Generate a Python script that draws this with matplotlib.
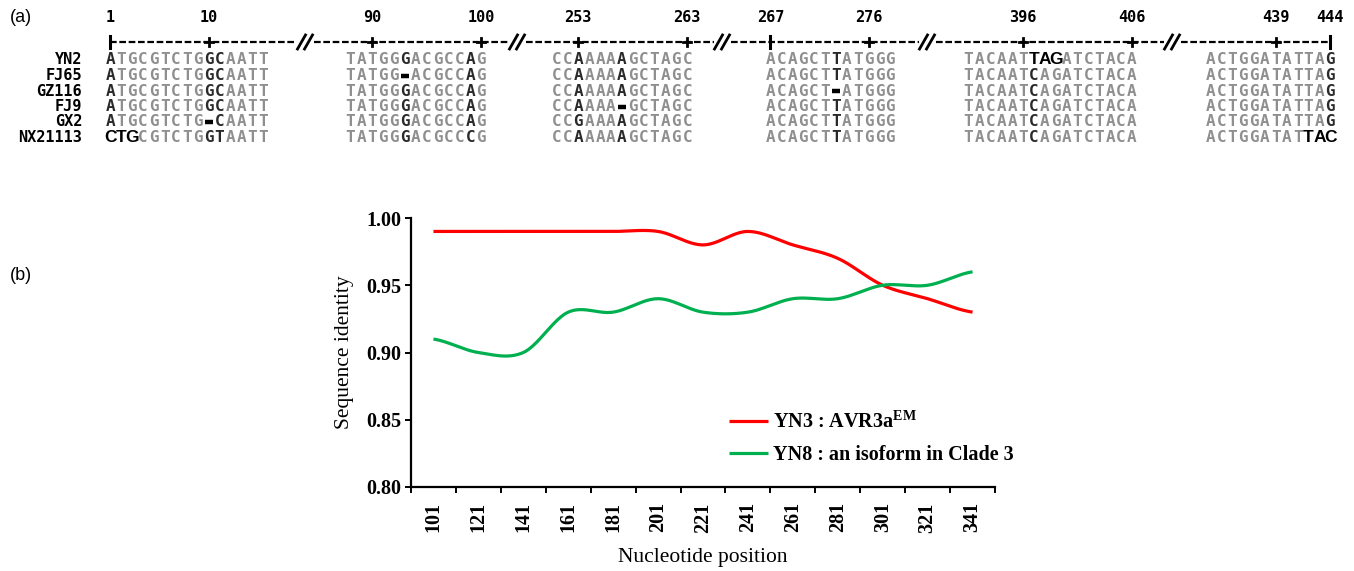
import matplotlib

matplotlib.use("Agg")

import matplotlib.pyplot as plt
import numpy as np

W_PX, H_PX = 1354, 571

# ---- panel (a): alignment data ----
STRAINS = ["YN2", "FJ65", "GZ116", "FJ9", "GX2", "NX21113"]
BLOCK_1 = ["ATGCGTCTGGCAATT", "ATGCGTCTGGCAATT", "ATGCGTCTGGCAATT",
           "ATGCGTCTGGCAATT", "ATGCGTCTG-CAATT", "CTGCGTCTGGTAATT"]
BLOCK_2 = ["TATGGGACGCCAG", "TATGG-ACGCCAG", "TATGGGACGCCAG",
           "TATGGGACGCCAG", "TATGGGACGCCAG", "TATGGGACGCCCG"]
BLOCK_3 = ["CCAAAAAGCTAGC", "CCAAAAAGCTAGC", "CCAAAAAGCTAGC",
           "CCAAAA-GCTAGC", "CCGAAAAGCTAGC", "CCAAAAAGCTAGC"]
BLOCK_4 = ["ACAGCTTATGGG", "ACAGCTTATGGG", "ACAGCT-ATGGG",
           "ACAGCTTATGGG", "ACAGCTTATGGG", "ACAGCTTATGGG"]
BLOCK_5 = ["TACAATTAGATCTACA", "TACAATCAGATCTACA", "TACAATCAGATCTACA",
           "TACAATCAGATCTACA", "TACAATCAGATCTACA", "TACAATCAGATCTACA"]
BLOCK_6 = ["ACTGGATATTAG", "ACTGGATATTAG", "ACTGGATATTAG",
           "ACTGGATATTAG", "ACTGGATATTAG", "ACTGGATATTAC"]
BLOCKS = [BLOCK_1, BLOCK_2, BLOCK_3, BLOCK_4, BLOCK_5, BLOCK_6]
# columns shown in dark grey (variable sites)
DARK_COLS = [[0, 9, 10], [5, 11], [2, 6], [6], [6], [11]]
# (row, block) -> (start, stop) of codons shown in black bold
BOLD_SPANS = {(5, 0): (0, 3), (0, 4): (6, 9), (5, 5): (9, 12)}
# ruler ticks per block: (column, label, marker)
RULER_TICKS = [
    [(0, "1", "I"), (9, "10", "+")],
    [(2, "90", "+"), (12, "100", "+")],
    [(2, "253", "+"), (12, "263", "+")],
    [(0, "267", "I"), (9, "276", "+")],
    [(5, "396", "+"), (15, "406", "+")],
    [(6, "439", "+"), (11, "444", "I")],
]

# ---- panel (b): sequence identity ----
POSITIONS = ["101", "121", "141", "161", "181", "201", "221",
             "241", "261", "281", "301", "321", "341"]
YN3_IDENTITY = [0.99, 0.99, 0.99, 0.99, 0.99, 0.99, 0.98,
                0.99, 0.98, 0.97, 0.95, 0.94, 0.93]
YN8_IDENTITY = [0.91, 0.90, 0.90, 0.93, 0.93, 0.94, 0.93,
                0.93, 0.94, 0.94, 0.95, 0.95, 0.96]
YN3_LABEL = r"YN3 : AVR3a$^{\mathbf{EM}}$"
YN8_LABEL = "YN8 : an isoform in Clade 3"

# layout (pixels)
BLOCK_X0 = [105, 345, 551, 765, 963, 1205]
CHAR_W = 10.9
ROW_Y0, ROW_DY = 60, 15.5
RULER_Y, RULER_LABEL_Y = 42, 18
NAME_X = 82
RULER_SEGMENTS = [(110, 296), (314, 509), (526, 714), (731, 919), (936, 1164), (1181, 1330)]
BREAK_X = [305, 517, 722, 927, 1172]

GREY = "#8f8f8f"
DARK = "#2a2a2a"
MONO = "DejaVu Sans Mono"
SERIF = "Liberation Serif"

plt.rcParams["mathtext.fontset"] = "custom"
plt.rcParams["mathtext.rm"] = SERIF
plt.rcParams["mathtext.bf"] = SERIF + ":bold"


def catmull_rom(values, steps=24):
    pts = np.asarray(values, dtype=float)
    padded = np.concatenate([[pts[0]], pts, [pts[-1]]])
    xs, ys = [], []
    t = np.linspace(0.0, 1.0, steps, endpoint=False)
    for i in range(len(pts) - 1):
        p0, p1, p2, p3 = padded[i:i + 4]
        m1 = (p2 - p0) / 2.0
        m2 = (p3 - p1) / 2.0
        h00 = 2 * t**3 - 3 * t**2 + 1
        h10 = t**3 - 2 * t**2 + t
        h01 = -2 * t**3 + 3 * t**2
        h11 = t**3 - t**2
        ys.append(h00 * p1 + h10 * m1 + h01 * p2 + h11 * m2)
        xs.append(i + t)
    xs.append([len(pts) - 1])
    ys.append([pts[-1]])
    return np.concatenate(xs), np.concatenate(ys)


def col_x(block, col):
    return BLOCK_X0[block] + (col + 0.5) * CHAR_W


def draw_alignment(ax):
    ax.text(10, 18, "(a)", fontsize=13, family="Liberation Sans", va="center", ha="left")
    for row, name in enumerate(STRAINS):
        y = ROW_Y0 + row * ROW_DY
        ax.text(NAME_X, y, name, fontsize=11, family=MONO, weight="bold",
                ha="right", va="center", color="black")
        for b, block in enumerate(BLOCKS):
            seq = block[row]
            span = BOLD_SPANS.get((row, b))
            for c, ch in enumerate(seq):
                x = col_x(b, c)
                if ch == "-":
                    ax.plot([x - 4, x + 4], [y, y], color="black", lw=3.2,
                            solid_capstyle="butt")
                    continue
                if span and span[0] <= c < span[1]:
                    ax.text(x, y, ch, fontsize=12.5, family="Liberation Sans", weight="bold",
                            ha="center", va="center", color="black")
                elif c in DARK_COLS[b]:
                    ax.text(x, y, ch, fontsize=11.5, family=MONO, weight="bold",
                            ha="center", va="center", color=DARK)
                else:
                    ax.text(x, y, ch, fontsize=11.5, family=MONO, weight="bold",
                            ha="center", va="center", color=GREY)

    # ruler
    for x0, x1 in RULER_SEGMENTS:
        ax.plot([x0, x1], [RULER_Y, RULER_Y], color="black", lw=1.6,
                ls=(0, (3.0, 1.2)), solid_capstyle="butt")
    for xb in BREAK_X:
        for off in (-3.5, 3.5):
            ax.plot([xb + off - 4, xb + off + 4], [RULER_Y + 7, RULER_Y - 7],
                    color="black", lw=2.0)
    for b, ticks in enumerate(RULER_TICKS):
        for col, label, marker in ticks:
            x = col_x(b, col)
            if marker == "I":
                ax.plot([x, x], [RULER_Y - 6, RULER_Y + 6], color="black", lw=2.2)
            else:
                ax.plot([x, x], [RULER_Y - 4, RULER_Y + 4], color="black", lw=2.0)
                ax.plot([x - 4, x + 4], [RULER_Y, RULER_Y], color="black", lw=2.0)
            ax.text(x, RULER_LABEL_Y, label, fontsize=11, family=MONO, weight="bold",
                    ha="center", va="center", color="black")


fig = plt.figure(figsize=(W_PX / 100, H_PX / 100), dpi=100)

overlay = fig.add_axes([0, 0, 1, 1])
overlay.set_xlim(0, W_PX)
overlay.set_ylim(H_PX, 0)
overlay.axis("off")
draw_alignment(overlay)
overlay.text(10, 275, "(b)", fontsize=13, family="Liberation Sans", va="center", ha="left")

# chart axes: left 411, right 995, top 218, bottom 487 (pixels)
ax = fig.add_axes([411 / W_PX, (H_PX - 487) / H_PX, 584 / W_PX, 269 / H_PX])
ax.patch.set_alpha(0)
idx = np.arange(len(POSITIONS))
for values, color, label in ((YN3_IDENTITY, "#ff0000", YN3_LABEL),
                             (YN8_IDENTITY, "#00b050", YN8_LABEL)):
    xs, ys = catmull_rom(values)
    ax.plot(xs, ys, color=color, lw=2.3, label=label, solid_capstyle="butt")

ax.set_xlim(-0.5, len(POSITIONS) - 0.5)
ax.set_ylim(0.80, 1.00)
ax.set_yticks(np.arange(0.80, 1.001, 0.05))
ax.set_yticklabels([f"{v:.2f}" for v in np.arange(0.80, 1.001, 0.05)])
ax.set_xticks(np.arange(-0.5, len(POSITIONS)), labels=[])
ax.set_xticks(idx, labels=POSITIONS, minor=True)
ax.tick_params(axis="x", which="major", length=4, width=1.4, direction="out")
ax.tick_params(axis="x", which="minor", length=0, pad=11)
ax.tick_params(axis="y", length=4, width=1.4, direction="out", pad=3)
for lab in ax.get_xticklabels(minor=True):
    lab.set_rotation(90)
    lab.set_fontfamily(SERIF)
    lab.set_fontweight("bold")
    lab.set_fontsize(14.5)
for lab in ax.get_yticklabels():
    lab.set_fontfamily(SERIF)
    lab.set_fontweight("bold")
    lab.set_fontsize(14.5)
for side in ("top", "right"):
    ax.spines[side].set_visible(False)
for side in ("left", "bottom"):
    ax.spines[side].set_linewidth(1.6)

ax.set_ylabel("Sequence identity", family=SERIF, fontsize=15.5, labelpad=9)
ax.set_xlabel("Nucleotide position", family=SERIF, fontsize=15.5, labelpad=11)

ax.legend(loc="upper left", bbox_to_anchor=((729 - 411) / 584, (487 - 411) / 269),
          frameon=False, borderpad=0, borderaxespad=0, handlelength=1.95,
          handletextpad=0.25, labelspacing=0.62,
          prop={"family": SERIF, "weight": "bold", "size": 14.5})

fig.savefig("out.png", dpi=100)
